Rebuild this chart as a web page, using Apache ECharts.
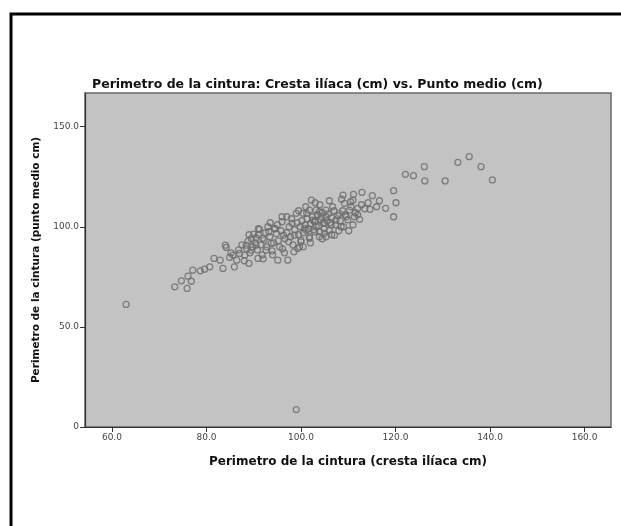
<!DOCTYPE html>
<html>
<head>
<meta charset="utf-8">
<script src="https://cdn.jsdelivr.net/npm/echarts@6/dist/echarts.min.js"></script>
<style>
  html, body { margin: 0; padding: 0; background: #fff; }
  #chart { width: 621px; height: 526px; }
</style>
</head>
<body>
<div id="chart"></div>
<script>
  const title = 'Perimetro de la cintura: Cresta ilíaca (cm) vs. Punto medio (cm)'
  const xName = 'Perimetro de la cintura (cresta ilíaca cm)'
  const yName = 'Perimetro de la cintura (punto medio cm)'

  const xTicks = [60, 80, 100, 120, 140, 160]
  const yTicks = [0, 50, 100, 150]

  // cresta iliaca (x)
  const cresta = [
    63.0, 99.0, 73.3, 75.9, 74.7, 76.1, 76.8, 77.1, 78.7, 79.6,
    80.7, 81.6, 82.9, 83.5, 84.0, 84.2, 84.9, 85.9, 86.4, 85.6,
    87.0, 88.1, 89.0, 88.4, 88.8, 89.5, 90.0, 90.5, 90.9, 91.2,
    91.9, 92.6, 93.2, 93.7, 94.4, 95.1, 95.5, 96.0, 96.3, 97.2,
    97.4, 98.1, 98.6, 99.0, 99.3, 100.0, 100.7, 101.2, 101.8, 102.2,
    102.9, 103.2, 103.9, 104.3, 105.0, 105.3, 105.3, 100.4, 101.8, 102.5,
    103.9, 104.6, 105.3, 106.0, 106.7, 107.4, 108.1, 108.5, 109.2, 109.6,
    110.3, 111.0, 111.3, 112.0, 112.4, 110.1, 103.9, 101.8, 100.0, 99.7,
    101.1, 102.9, 105.0, 107.1, 106.4, 103.2, 108.9, 108.6, 112.9, 111.1,
    115.1, 116.6, 117.9, 114.6, 116.0, 119.6, 120.1, 119.6, 122.1, 123.8,
    126.1, 126.2, 130.5, 133.2, 135.6, 138.1, 140.5, 88.5, 89.2, 89.8,
    90.3, 90.8, 91.5, 91.8, 92.2, 92.8, 93.4, 93.9, 94.2, 94.8,
    95.2, 95.8, 96.1, 96.6, 97.0, 97.5, 97.8, 98.3, 98.7, 99.2,
    99.5, 99.8, 100.2, 100.5, 100.9, 101.3, 101.6, 102.0, 102.4, 102.7,
    103.0, 103.5, 103.8, 104.1, 104.5, 104.9, 105.5, 105.8, 106.2, 106.5,
    107.0, 107.3, 107.8, 108.3, 108.8, 109.4, 109.9, 110.6, 111.5, 112.8,
    113.5, 114.2, 104.0, 101.0, 97.0, 95.0, 93.0, 91.0, 89.5, 87.5,
    86.8, 85.2, 88.0, 92.0, 94.0, 96.5, 98.5, 100.5, 102.0, 104.5,
    106.5, 108.0, 109.0, 111.0, 112.0, 110.5, 106.0, 103.0, 99.5, 98.0,
    96.0, 94.5, 92.5, 90.5, 89.0, 91.0, 93.5
  ]
  // punto medio (y), same order
  const medio = [
    61.2, 8.7, 70.0, 69.2, 73.0, 75.3, 72.8, 78.3, 78.0, 78.8,
    80.0, 84.2, 83.3, 79.2, 90.8, 89.7, 84.7, 80.0, 83.3, 85.8,
    86.7, 85.8, 81.7, 90.8, 92.8, 88.3, 96.3, 90.8, 84.2, 98.7,
    94.2, 88.3, 97.5, 91.7, 99.2, 83.3, 90.0, 105.0, 95.8, 83.3,
    92.5, 101.7, 95.8, 106.7, 89.2, 93.3, 99.2, 106.7, 95.0, 113.3,
    102.5, 108.3, 97.5, 105.0, 101.7, 108.3, 95.0, 106.7, 108.3, 103.3,
    107.5, 101.7, 105.0, 98.3, 110.0, 103.3, 106.7, 100.0, 111.7, 105.0,
    108.3, 113.3, 105.0, 109.2, 103.7, 98.0, 95.0, 94.2, 92.5, 90.0,
    98.3, 97.5, 96.7, 95.8, 100.8, 100.0, 115.8, 113.8, 117.2, 116.2,
    115.5, 113.0, 109.2, 108.7, 110.0, 118.0, 112.0, 105.0, 126.2, 125.5,
    130.0, 122.9, 122.9, 132.2, 135.0, 130.0, 123.4, 89.0, 87.0, 90.0,
    92.0, 88.5, 91.0, 86.0, 93.5, 90.0, 95.0, 88.0, 92.0, 96.5,
    93.0, 98.0, 89.0, 94.0, 97.0, 100.0, 95.0, 91.0, 98.5, 102.0,
    96.0, 100.0, 103.0, 97.0, 101.0, 104.0, 99.0, 101.5, 105.0, 98.5,
    103.0, 106.0, 100.5, 103.5, 107.0, 99.0, 103.0, 106.5, 102.0, 104.5,
    108.0, 101.0, 105.5, 103.0, 108.0, 106.0, 103.5, 110.0, 107.0, 111.0,
    109.0, 112.0, 111.0, 110.0, 105.0, 101.0, 100.0, 96.0, 94.0, 91.0,
    88.5, 87.0, 83.0, 84.0, 86.0, 87.0, 87.5, 90.0, 92.0, 94.0,
    96.0, 98.0, 100.0, 101.0, 106.0, 112.5, 113.0, 112.0, 108.0, 104.0,
    102.5, 99.0, 97.0, 94.5, 96.0, 99.0, 102.0
  ]

  const points = cresta.map((x, i) => [x, medio[i]])

  const chart = echarts.init(document.getElementById('chart'))
  chart.setOption({
    backgroundColor: '#fff',
    animation: false,
    title: {
      text: title,
      left: 87,
      top: 73,
      textStyle: { fontFamily: 'DejaVu Sans', fontSize: 12.5, fontWeight: 'bold', color: '#111' },
    },
    graphic: [
      {
        type: 'rect',
        shape: { x: 11, y: 14, width: 640, height: 540 },
        style: { fill: 'none', stroke: '#000', lineWidth: 3 },
        silent: true,
      },
    ],
    grid: {
      left: 85,
      right: 10,
      top: 93,
      bottom: 99,
      show: true,
      backgroundColor: '#c3c3c3',
      borderColor: '#6a6a6a',
      borderWidth: 1.5,
    },
    xAxis: {
      type: 'value',
      min: 54.3,
      max: 165.6,
      interval: 20,
      name: xName,
      nameLocation: 'middle',
      nameGap: 29,
      nameTextStyle: { fontFamily: 'DejaVu Sans', fontSize: 12, fontWeight: 'bold', color: '#111' },
      axisLine: { show: true, lineStyle: { color: '#333', width: 1.2 } },
      axisTick: { show: true, length: 5, lineStyle: { color: '#333' }, customValues: xTicks },
      axisLabel: {
        fontFamily: 'DejaVu Sans',
        fontSize: 9,
        color: '#444',
        margin: 6,
        customValues: xTicks,
        formatter: (v) => v.toFixed(1),
      },
      splitLine: { show: false },
    },
    yAxis: {
      type: 'value',
      min: 0,
      max: 166.8,
      interval: 50,
      name: yName,
      nameLocation: 'middle',
      nameGap: 43,
      nameTextStyle: { fontFamily: 'DejaVu Sans', fontSize: 10.5, fontWeight: 'bold', color: '#111' },
      axisLine: { show: true, lineStyle: { color: '#333', width: 1.2 } },
      axisTick: { show: true, length: 5, lineStyle: { color: '#333' }, customValues: yTicks },
      axisLabel: {
        fontFamily: 'DejaVu Sans',
        fontSize: 9,
        color: '#444',
        margin: 6,
        customValues: yTicks,
        formatter: (v) => (v === 0 ? '0' : v.toFixed(1)),
      },
      splitLine: { show: false },
    },
    series: [
      {
        type: 'scatter',
        data: points,
        symbol: 'circle',
        symbolSize: 6,
        itemStyle: {
          color: 'rgba(0,0,0,0)',
          borderColor: '#6b6b6b',
          borderWidth: 1.3,
        },
      },
    ],
  })
</script>
</body>
</html>
